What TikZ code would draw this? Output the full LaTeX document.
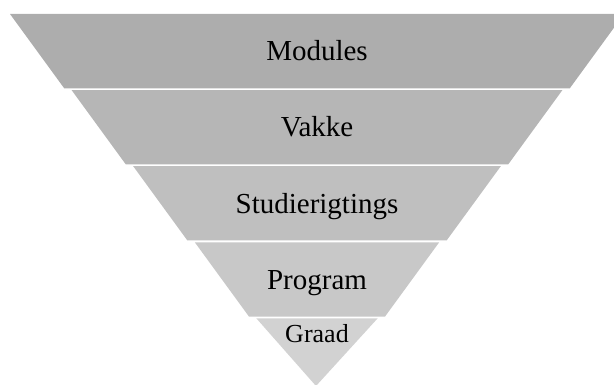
\documentclass[tikz,border=0pt]{standalone}
\usepackage{fontspec}
\setmainfont{Liberation Serif}
\definecolor{band0}{HTML}{ADADAD}
\definecolor{band1}{HTML}{B6B6B6}
\definecolor{band2}{HTML}{BFBFBF}
\definecolor{band3}{HTML}{C8C8C8}
\definecolor{band4}{HTML}{D2D2D2}
\begin{document}
\begin{tikzpicture}[x=1pt,y=-1pt,
  lbl/.style={font=\fontsize{29}{34}\selectfont, text=black, inner sep=0pt, anchor=base},
  smalllbl/.style={lbl, font=\fontsize{26}{30}\selectfont}]
\useasboundingbox (0,0) rectangle (614,385);
\clip (0,0) rectangle (614,385);
\foreach \i in {0,1,2,3}{
  \pgfmathsetmacro{\yt}{14+76.1*\i}
  \pgfmathsetmacro{\yb}{\yt+74.3}
  \pgfmathsetmacro{\wt}{307-61.6*\i}
  \pgfmathsetmacro{\wb}{\wt-54.2}
  \fill[band\i] (317-\wt,\yt) -- (317+\wt,\yt) -- (317+\wb,\yb) -- (317-\wb,\yb) -- cycle;
}
\pgfmathsetmacro{\yt}{14+76.1*4}
\pgfmathsetmacro{\wt}{307-61.6*4}
\fill[band4] (317-\wt,\yt) -- (317+\wt,\yt) -- (316,386) -- cycle;
\node[lbl] (modules) at (317,60.5) {Modules};
\node[lbl] (vakke) at (317,136.5) {Vakke};
\node[lbl] (studie) at (317,213.5) {Studierigtings};
\node[lbl] (program) at (317,289.5) {Program};
\node[smalllbl] (graad) at (317,342) {Graad};
\end{tikzpicture}
\end{document}
